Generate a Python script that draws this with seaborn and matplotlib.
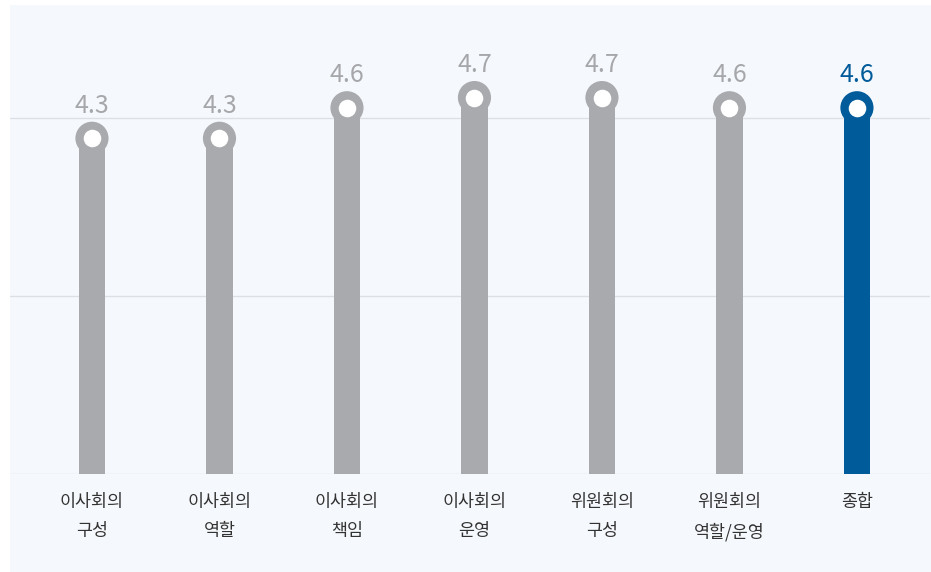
import matplotlib
matplotlib.use("Agg")
import matplotlib.pyplot as plt
import seaborn as sns
import pandas as pd
from matplotlib.patches import Rectangle

categories = ["이사회의\n구성", "이사회의\n역할", "이사회의\n책임", "이사회의\n운영",
              "위원회의\n구성", "위원회의\n역할/운영", "종합"]
scores = [4.3, 4.3, 4.6, 4.7, 4.7, 4.6, 4.6]
highlight = [False, False, False, False, False, False, True]

GRAY = "#a9aaad"
BLUE = "#005b9a"
LABEL_GRAY = "#a6a7aa"
PANEL = "#f5f8fc"

sns.set_theme(style="white")
plt.rcParams["font.family"] = ["Noto Sans CJK KR", "DejaVu Sans"]

df = pd.DataFrame({"category": categories, "score": scores,
                   "group": ["total" if h else "item" for h in highlight]})
palette = {"item": GRAY, "total": BLUE}

fig = plt.figure(figsize=(9.31, 5.72), dpi=100)
fig.patch.set_facecolor("white")
panel = Rectangle((10 / 931, 0), 921 / 931, 567 / 572,
                  transform=fig.transFigure, facecolor=PANEL,
                  edgecolor="none", zorder=-10)
fig.patches.append(panel)

ax = fig.add_axes([10 / 931, (572 - 474) / 572, 920 / 931, 469 / 572])
ax.set_facecolor("none")
ax.set_zorder(1)

y_base = 1.0
y_top = 5.61

grid_values = [y_base, 2.75, 4.5]
for g in grid_values:
    ax.axhline(g, color="#dcdfe3", lw=1.0, zorder=1)

sns.barplot(data=df, x="category", y="score", hue="group", palette=palette,
            width=0.205, legend=False, dodge=False, ax=ax, zorder=2,
            saturation=1, linewidth=0)
ax.set_xlim(-0.643, 6.573)
ax.set_ylim(y_base, y_top)

colors = [palette[g] for g in df["group"]]
xs = list(range(len(categories)))
ax.scatter(xs, scores, s=570, c=colors, zorder=3, linewidths=0)
ax.scatter(xs, scores, s=160, c="white", zorder=4, linewidths=0)

for x, v, h in zip(xs, scores, highlight):
    ax.annotate(f"{v:.1f}", (x, v), xytext=(0, 18.5), textcoords="offset points",
                ha="center", va="baseline", fontsize=18,
                color=BLUE if h else LABEL_GRAY, zorder=5)

ax.set_xlabel("")
ax.set_ylabel("")
ax.set_yticks([])
ax.tick_params(axis="x", length=0, pad=14, labelsize=12.5, labelcolor="#333333")
for lbl in ax.get_xticklabels():
    lbl.set_linespacing(1.75)
for s in ax.spines.values():
    s.set_visible(False)

fig.savefig("out.png", dpi=100, facecolor=fig.get_facecolor())
